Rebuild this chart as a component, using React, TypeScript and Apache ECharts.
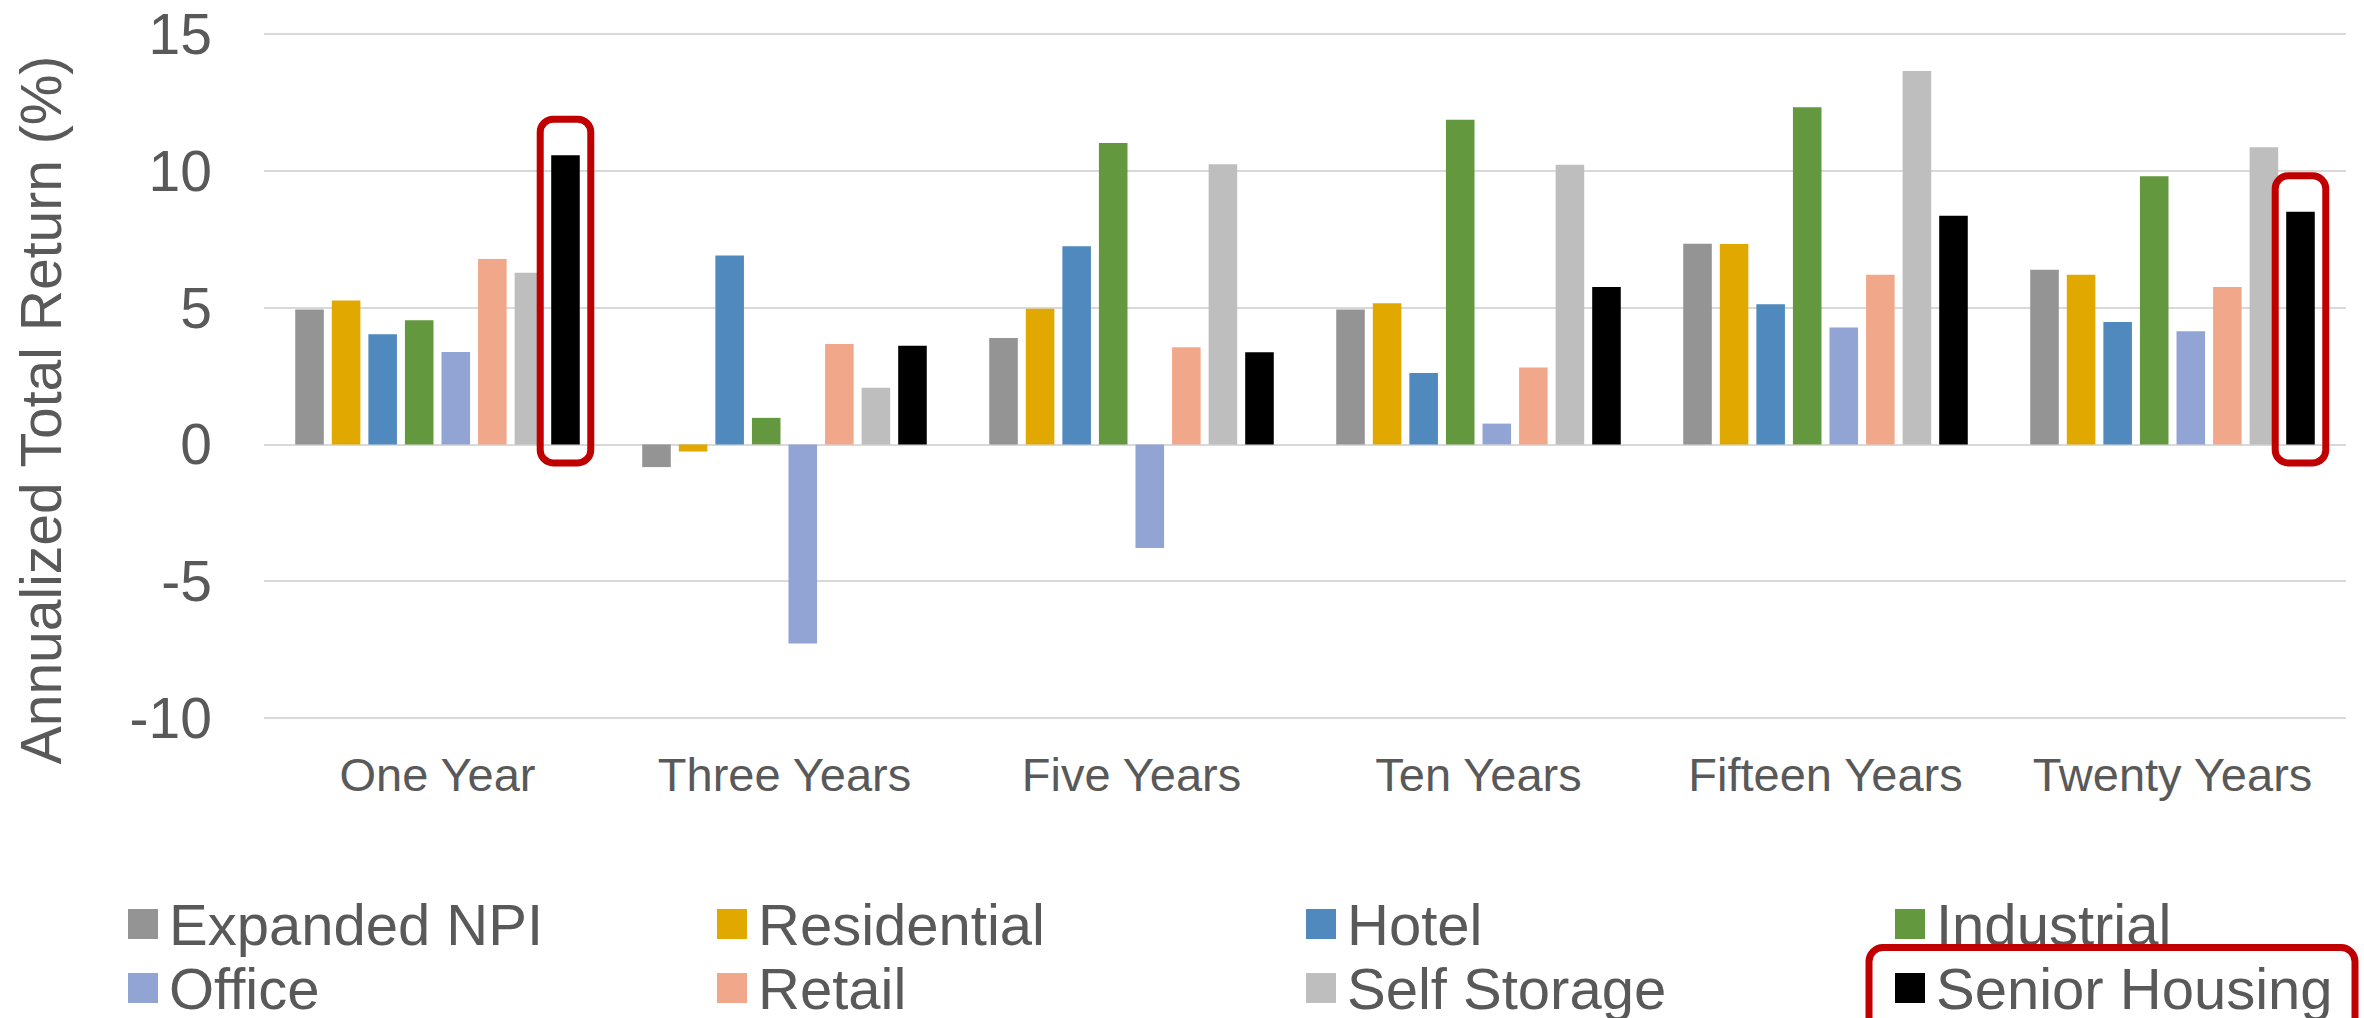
import React, { useEffect, useRef } from "react";
import * as echarts from "echarts";

const categories = ["One Year", "Three Years", "Five Years", "Ten Years", "Fifteen Years", "Twenty Years"];
const seriesNames = ["Expanded NPI", "Residential", "Hotel", "Industrial", "Office", "Retail", "Self Storage", "Senior Housing"];
const seriesColors = ["#949494", "#E1A900", "#4F89BD", "#63983E", "#91A4D4", "#F0A78A", "#BEBEBE", "#000000"];

const expandedNPI = [4.93, -0.83, 3.89, 4.93, 7.33, 6.38];
const residential = [5.26, -0.26, 4.96, 5.16, 7.32, 6.2];
const hotel = [4.03, 6.9, 7.24, 2.61, 5.12, 4.47];
const industrial = [4.54, 0.97, 11.02, 11.87, 12.32, 9.8];
const office = [3.38, -7.28, -3.79, 0.76, 4.27, 4.14];
const retail = [6.78, 3.67, 3.55, 2.81, 6.2, 5.75];
const selfStorage = [6.27, 2.07, 10.24, 10.22, 13.65, 10.86];
const seniorHousing = [10.57, 3.61, 3.37, 5.75, 8.36, 8.5];

const seriesValues = [expandedNPI, residential, hotel, industrial, office, retail, selfStorage, seniorHousing];

const yMin = -10;
const yMax = 15;
const yInterval = 5;

const highlightedSeries = "Senior Housing";
const highlightedCategories = ["One Year", "Twenty Years"];

const FONT = "'Liberation Sans', Arial, sans-serif";
const TEXT_COLOR = "#595959";
const HIGHLIGHT = "#C00000";

const W = 2364;
const H = 1018;
const GRID = { left: 264, right: 18, top: 34, bottom: 300 };
const BAR_CATEGORY_GAP = 0.18;
const BAR_GAP = 0.28;

export default function App() {
  const ref = useRef<HTMLDivElement>(null);

  useEffect(() => {
    if (!ref.current) return;
    const chart = echarts.init(ref.current, null, { renderer: "svg" });

    const legendCols = [128, 717, 1306, 1895];
    const legendRows = [895, 959];
    const legends = seriesNames.map((name, i) => {
      const col = i % 4;
      const row = Math.floor(i / 4);
      return {
        data: [name],
        left: legendCols[col],
        top: legendRows[row],
        itemWidth: 30,
        itemHeight: 30,
        icon: "rect",
        selectedMode: false,
        padding: 0,
        textStyle: {
          fontFamily: FONT,
          fontSize: 58,
          lineHeight: 52,
          color: TEXT_COLOR,
          padding: [0, 0, 0, 6],
        },
      };
    });

    const option: any = {
      animation: false,
      backgroundColor: "#ffffff",
      grid: { left: GRID.left, right: GRID.right, top: GRID.top, bottom: GRID.bottom, containLabel: false },
      legend: legends,
      xAxis: {
        type: "category",
        data: categories,
        position: "bottom",
        axisLine: { show: false, onZero: false },
        axisTick: { show: false },
        axisLabel: {
          fontFamily: FONT,
          fontSize: 47,
          color: TEXT_COLOR,
          margin: 33,
          interval: 0,
        },
      },
      yAxis: {
        type: "value",
        min: yMin,
        max: yMax,
        interval: yInterval,
        axisLine: { show: false },
        axisTick: { show: false },
        axisLabel: {
          fontFamily: FONT,
          fontSize: 57,
          color: TEXT_COLOR,
          margin: 52,
        },
        splitLine: { lineStyle: { color: "#D9D9D9", width: 2 } },
      },
      series: seriesNames.map((name, i) => ({
        name,
        type: "bar",
        data: seriesValues[i],
        barGap: `${BAR_GAP * 100}%`,
        barCategoryGap: `${BAR_CATEGORY_GAP * 100}%`,
        itemStyle: { color: seriesColors[i] },
        emphasis: { disabled: true },
      })),
    };

    chart.setOption(option);

    // Annotation boxes computed from the chart's own scales
    const graphics: any[] = [];
    const c0 = chart.convertToPixel({ xAxisIndex: 0 }, categories[0]) as number;
    const c1 = chart.convertToPixel({ xAxisIndex: 0 }, categories[1]) as number;
    const band = c1 - c0;
    const n = seriesNames.length;
    const remained = band * (1 - BAR_CATEGORY_GAP);
    const bw = remained / (n + (n - 1) * BAR_GAP);
    const total = bw * n + bw * BAR_GAP * (n - 1);
    const sIdx = seriesNames.indexOf(highlightedSeries);
    const zeroY = chart.convertToPixel({ yAxisIndex: 0 }, 0) as number;

    highlightedCategories.forEach((cat) => {
      const ci = categories.indexOf(cat);
      const cx = chart.convertToPixel({ xAxisIndex: 0 }, cat) as number;
      const barCenter = cx - total / 2 + sIdx * bw * (1 + BAR_GAP) + bw / 2;
      const topY = chart.convertToPixel({ yAxisIndex: 0 }, seriesValues[sIdx][ci]) as number;
      const padX = 11;
      const x0 = barCenter - bw / 2 - padX;
      const y0 = topY - 36;
      graphics.push({
        type: "rect",
        shape: { x: x0, y: y0, width: bw + padX * 2, height: zeroY + 18.5 - y0, r: 13 },
        style: { fill: "none", stroke: HIGHLIGHT, lineWidth: 7 },
        z: 100,
      });
    });

    const legIdx = seriesNames.indexOf(highlightedSeries);
    const lx = legendCols[legIdx % 4];
    const ly = legendRows[Math.floor(legIdx / 4)];
    graphics.push({
      type: "rect",
      shape: { x: lx - 26, y: ly - 11.5, width: 486, height: 120, r: 14 },
      style: { fill: "none", stroke: HIGHLIGHT, lineWidth: 7 },
      z: 100,
    });

    graphics.push({
      type: "text",
      x: 41,
      y: 410,
      rotation: Math.PI / 2,
      style: {
        text: "Annualized Total Return (%)",
        fontFamily: FONT,
        fontSize: 57,
        fill: TEXT_COLOR,
        align: "center",
        verticalAlign: "middle",
      },
    });

    chart.setOption({ graphic: graphics });

    return () => chart.dispose();
  }, []);

  return (
    <div
      ref={ref}
      style={{ position: "fixed", left: 0, top: 0, width: W, height: H, background: "#fff" }}
    />
  );
}
